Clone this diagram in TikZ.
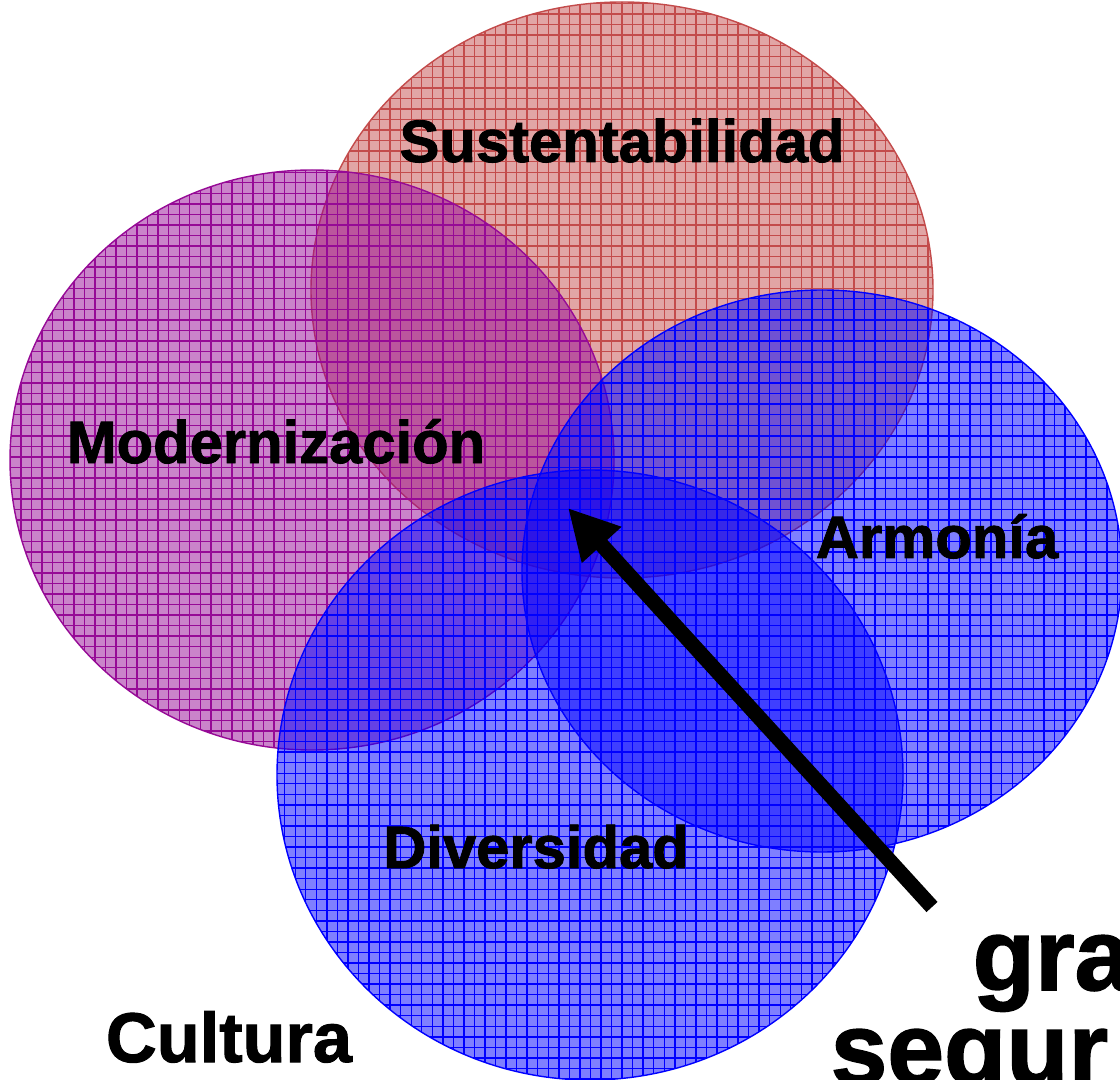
\documentclass[tikz,border=0pt]{standalone}
\usepackage{fontspec}
\setmainfont{Liberation Sans}[BoldFeatures={FakeBold=1.5}]
\usetikzlibrary{patterns,arrows.meta}
\definecolor{sustred}{RGB}{195,75,75}
\definecolor{modpurple}{RGB}{150,10,150}
\definecolor{armblue}{RGB}{0,0,255}
\tikzset{
    circulo/.style={draw=#1, line width=0.4pt,
        preaction={fill=#1, fill opacity=0.5},
        pattern=grid, pattern color=#1, fill opacity=0.55},
    etiqueta/.style={font=\bfseries\fontsize{17}{20}\selectfont, anchor=base, inner sep=0pt},
    grande/.style={font=\bfseries\fontsize{29}{34}\selectfont, anchor=base west, inner sep=0pt},
}
\begin{document}
\begin{tikzpicture}
    \useasboundingbox (0, 0) rectangle (11.2, 10.79);
    \clip (0, 0) rectangle (11.2, 10.79);

    \draw[circulo=sustred] (6.22, 7.89) ellipse (3.11 and 2.88);
    \draw[circulo=modpurple] (3.12, 6.19) ellipse (3.02 and 2.90);
    \draw[circulo=armblue] (8.22, 5.08) ellipse (3.00 and 2.81);
    \draw[circulo=armblue] (5.90, 3.04) ellipse (3.13 and 3.05);

        \node[etiqueta] (sust) at (6.22, 9.17) {Sustentabilidad};
        \node[etiqueta] (mod) at (2.76, 6.16) {Modernización};
        \node[etiqueta] (arm) at (9.37, 5.21) {Armonía};
        \node[etiqueta] (div) at (5.36, 2.11) {Diversidad};
        \node[etiqueta, font=\bfseries\fontsize{20}{24}\selectfont] (cult) at (2.29, 0.17) {Cultura};

        \node[grande] (gra) at (9.72, 0.89) {gra};
        \node[grande] (segur) at (8.30, -0.05) {segur};

    % flecha hacia el centro
    \coordinate (cola) at (9.32, 1.72);
    \coordinate (punta) at (5.68, 5.71);
    \draw[line width=0.15cm, -{Triangle[length=0.5cm, width=0.5cm]}] (cola) -- (punta);
\end{tikzpicture}
\end{document}
